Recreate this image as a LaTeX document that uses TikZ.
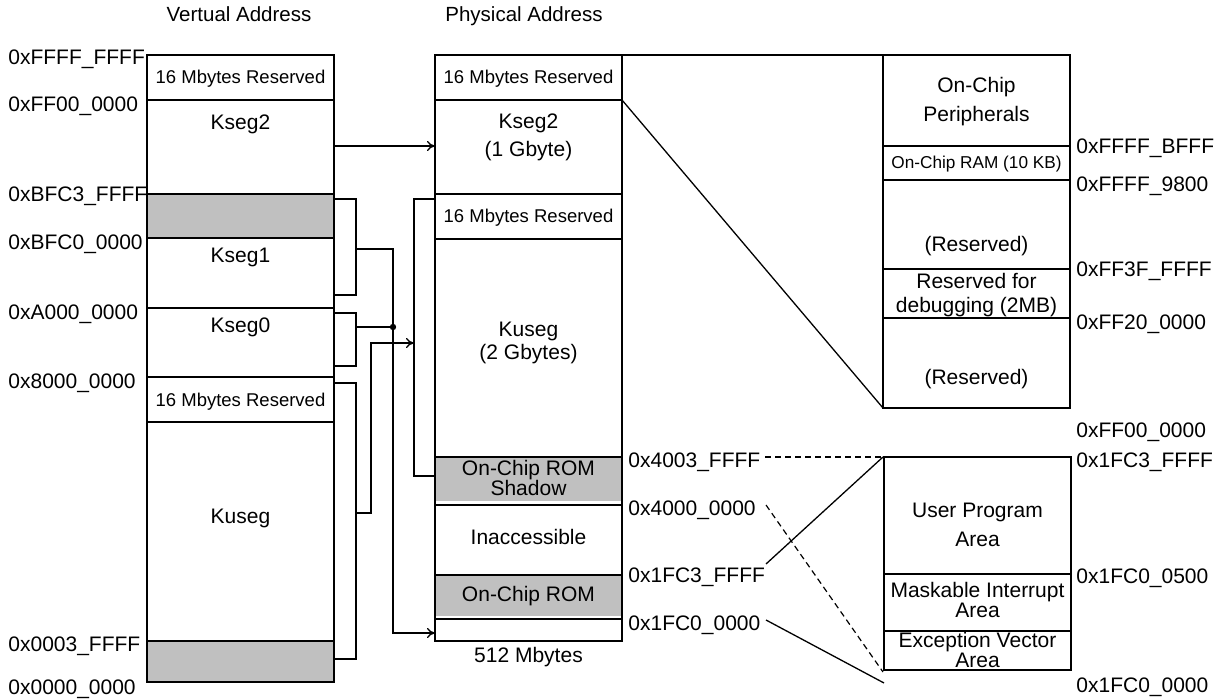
\documentclass[tikz,border=0pt]{standalone}
\usepackage{fontspec}
\setmainfont{Liberation Sans}
\usetikzlibrary{arrows.meta}
\definecolor{romgray}{HTML}{C0C0C0}
\begin{document}
\begin{tikzpicture}[x=0.5pt,y=-0.5pt,
  box/.style={line width=0.7pt},
  conn/.style={line width=0.65pt},
  arr/.style={conn,-{To[length=4pt,width=5pt]}},
  txt/.style={inner sep=0pt,anchor=base,font=\fontsize{10.5}{12}\selectfont},
  addr/.style={txt,anchor=base west},
  res/.style={txt,font=\fontsize{9.25}{11}\selectfont},
  small/.style={txt,font=\fontsize{8.6}{10}\selectfont},
  ttl/.style={txt,font=\fontsize{10.25}{12}\selectfont},
  dsh/.style={line width=0.6pt,dash pattern=on 3pt off 2pt},
  thin/.style={line width=0.65pt}]
\useasboundingbox (0,0) rectangle (1222,699);

% gray fills
\fill[romgray] (147,194) rectangle (334,238);
\fill[romgray] (147,641) rectangle (334,682);
\fill[romgray] (435,457) rectangle (622,501);
\fill[romgray] (435,575) rectangle (622,616);

% virtual column
\draw[box] (147,55) rectangle (334,682);
\foreach \yy in {100,194,238,308,377,422} \draw[box] (147,\yy) -- (334,\yy);
\draw[line width=1.3pt] (147,641) -- (334,641);

% physical column
\draw[box] (435,55) rectangle (622,641);
\foreach \yy in {100,194,239,457,505,575,619} \draw[box] (435,\yy) -- (622,\yy);

% kseg2 detail box
\draw[box] (622,55) -- (883,55);
\draw[box] (883,55) rectangle (1070,408);
\foreach \yy in {146,180,269,318} \draw[box] (883,\yy) -- (1070,\yy);
\coordinate (pk2) at (622,100);
\coordinate (dk2) at (883,408);
\draw[thin] (pk2) -- (dk2);

% ROM detail box
\draw[box] (884,457) rectangle (1071,670);
\foreach \yy in {574,631} \draw[box] (884,\yy) -- (1071,\yy);

% titles
\node[ttl] (tv) at (239,22) {Vertual Address};
\node[ttl] (tp) at (524,22) {Physical Address};

% virtual labels
\node[addr] (va1) at (8,64.5) {0xFFFF\_FFFF};
\node[addr] (va2) at (8,111.5) {0xFF00\_0000};
\node[addr] (va3) at (8,201.5) {0xBFC3\_FFFF};
\node[addr] (va4) at (8,249.5) {0xBFC0\_0000};
\node[addr] (va5) at (8,319.5) {0xA000\_0000};
\node[addr] (va6) at (8,388.5) {0x8000\_0000};
\node[addr] (va7) at (8,651.5) {0x0003\_FFFF};
\node[addr] (va8) at (8,694.5) {0x0000\_0000};

% virtual texts
\node[res] (vr1) at (240.5,84) {16 Mbytes Reserved};
\node[txt] (vk2) at (240.5,130) {Kseg2};
\node[txt] (vk1) at (240.5,263) {Kseg1};
\node[txt] (vk0) at (240.5,333) {Kseg0};
\node[res] (vr2) at (240.5,407) {16 Mbytes Reserved};
\node[txt] (vku) at (240.5,524) {Kuseg};

% physical texts
\node[res] (pr1) at (528.5,84) {16 Mbytes Reserved};
\node[txt] (pk2a) at (528.5,129) {Kseg2};
\node[txt] (pk2b) at (528.5,157) {(1 Gbyte)};
\node[res] (pr2) at (528.5,223) {16 Mbytes Reserved};
\node[txt] (pkua) at (528.5,337) {Kuseg};
\node[txt] (pkub) at (528.5,360) {(2 Gbytes)};
\node[txt] (psha) at (528.5,476) {On-Chip ROM};
\node[txt] (pshb) at (528.5,495.5) {Shadow};
\node[txt] (pina) at (528.5,545) {Inaccessible};
\node[txt] (prom) at (528.5,602) {On-Chip ROM};
\node[txt] (p512) at (528.5,663) {512 Mbytes};

% physical bottom labels
\node[addr] (pa1) at (628,468) {0x4003\_FFFF};
\node[addr] (pa2) at (628,515.5) {0x4000\_0000};
\node[addr] (pa3) at (628,582.5) {0x1FC3\_FFFF};
\node[addr] (pa4) at (628,630.5) {0x1FC0\_0000};

% kseg2 detail texts
\node[txt] (ka) at (976.5,93) {On-Chip};
\node[txt] (kb) at (976.5,122) {Peripherals};
\node[small] (kc) at (976.5,169) {On-Chip RAM (10 KB)};
\node[txt] (kd) at (976.5,252) {(Reserved)};
\node[txt] (ke) at (976.5,289) {Reserved for};
\node[txt] (kf) at (976.5,313) {debugging (2MB)};
\node[txt] (kg) at (976.5,385) {(Reserved)};
\node[addr] (kl1) at (1076,153.5) {0xFFFF\_BFFF};
\node[addr] (kl2) at (1076,191.5) {0xFFFF\_9800};
\node[addr] (kl3) at (1076,276.5) {0xFF3F\_FFFF};
\node[addr] (kl4) at (1076,329.5) {0xFF20\_0000};
\node[addr] (kl5) at (1076,437.5) {0xFF00\_0000};

% ROM detail texts
\node[txt] (ra) at (977.5,518) {User Program};
\node[txt] (rb) at (977.5,547) {Area};
\node[txt] (rc) at (977.5,598) {Maskable Interrupt};
\node[txt] (rd) at (977.5,618) {Area};
\node[txt] (re) at (977.5,648) {Exception Vector};
\node[txt] (rf) at (977.5,668) {Area};
\node[addr] (rl1) at (1076,468) {0x1FC3\_FFFF};
\node[addr] (rl2) at (1076,584) {0x1FC0\_0500};
\node[addr] (rl3) at (1076,693) {0x1FC0\_0000};

% ROM detail connectors
\coordinate (d1s) at (765,457);
\coordinate (rtl) at (883,457);
\coordinate (d2s) at (766,505);
\coordinate (rbl) at (883,672);
\coordinate (s1s) at (766,564);
\coordinate (s2s) at (766,620);
\coordinate (s2e) at (884,683);
\draw[dsh] (d1s) -- (rtl);
\draw[dsh] (d2s) -- (rbl);
\draw[thin] (s1s) -- (rtl);
\draw[thin] (s2s) -- (s2e);

% virtual -> physical connectors
\coordinate (v2) at (334,146);
\coordinate (p2) at (435,146);
\draw[arr] (v2) -- (p2);

\coordinate (k1a) at (334,199);
\coordinate (k1b) at (334,295);
\coordinate (k1m) at (356,249);
\draw[conn] (k1a) -- (356,199) -- (356,295) -- (k1b);

\coordinate (k0a) at (334,313);
\coordinate (k0b) at (334,366);
\coordinate (k0m) at (356,327);
\draw[conn] (k0a) -- (356,313) -- (356,366) -- (k0b);

\coordinate (j1) at (393,327);
\coordinate (prb) at (435,633);
\draw[arr] (k1m) -- (393,249) -- (393,633) -- (prb);
\draw[conn] (k0m) -- (j1);
\fill (j1) circle[radius=1.6pt];

\coordinate (kua) at (334,383);
\coordinate (kub) at (334,659);
\coordinate (kum) at (356,513);
\draw[conn] (kua) -- (356,383) -- (356,659) -- (kub);

\coordinate (pba) at (435,199);
\coordinate (pbb) at (435,476);
\coordinate (pbm) at (414,343);
\draw[conn] (pba) -- (414,199) -- (414,476) -- (pbb);
\draw[arr] (kum) -- (371,513) -- (371,343) -- (pbm);
\end{tikzpicture}
\end{document}
